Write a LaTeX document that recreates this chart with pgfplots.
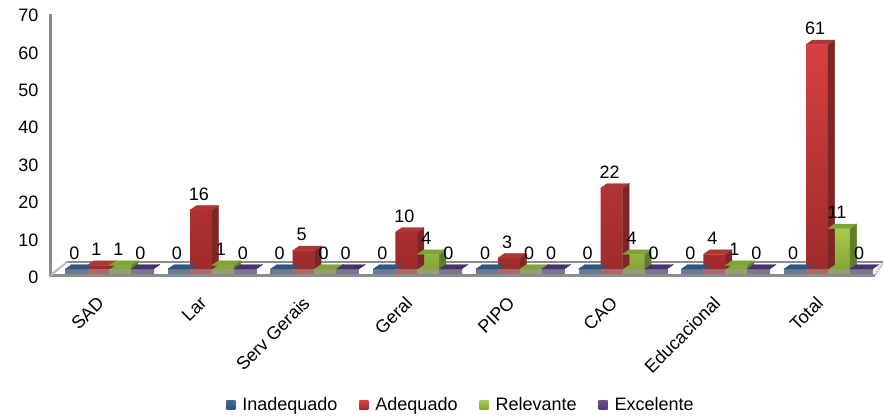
\documentclass[border=0pt]{standalone}
\usepackage{pgfplots}
\usepackage{pgfplotstable}
\usepackage{fontspec}
\setmainfont{Liberation Sans}
\pgfplotsset{compat=1.18}
\definecolor{floorg}{HTML}{8C8C8C}
\definecolor{atop}{HTML}{3F6A9C}\definecolor{abot}{HTML}{2F5580}\definecolor{aplate}{HTML}{2F5680}\definecolor{aside}{HTML}{24446A}\definecolor{astrip}{HTML}{6A7C94}
\definecolor{btop}{HTML}{D54040}\definecolor{bbot}{HTML}{A02B2B}\definecolor{bplate}{HTML}{B03636}\definecolor{bside}{HTML}{7E2525}\definecolor{bstrip}{HTML}{A66A6E}
\definecolor{ctop}{HTML}{A6CC4A}\definecolor{cbot}{HTML}{86A43A}\definecolor{cplate}{HTML}{7FA336}\definecolor{cside}{HTML}{5F7D2A}\definecolor{cstrip}{HTML}{929F70}
\definecolor{dtop}{HTML}{6A4F92}\definecolor{dbot}{HTML}{523D75}\definecolor{dplate}{HTML}{47336C}\definecolor{dside}{HTML}{382858}\definecolor{dstrip}{HTML}{7F7590}
\pgfplotstableread{
x a b c d
0 0 1 1 0
1 0 16 1 0
2 0 5 0 0
3 0 10 4 0
4 0 3 0 0
5 0 22 4 0
6 0 4 1 0
7 0 61 11 0
}\chartdata
\newcommand{\mkmark}[5]{%
\pgfdeclareplotmark{m#1}{%
\pgfmathsetmacro\hh{\rawy*3.68}%
\pgfmathsetmacro\xl{#2-11}\pgfmathsetmacro\xr{#2+11}%
\pgfmathsetmacro\xlb{\xl+6.5}\pgfmathsetmacro\xrb{\xr+6.5}%
\fill[#5] (\xl pt,-\hh pt) rectangle (\xr pt,{-\hh-4.5 pt});
\fill[#4] (\xr pt,0pt) -- (\xrb pt,4.5pt) -- (\xrb pt,{-\hh+4.5 pt}) -- (\xr pt,-\hh pt) -- cycle;
\fill[#3] (\xl pt,0pt) -- (\xlb pt,4.5pt) -- (\xrb pt,4.5pt) -- (\xr pt,0pt) -- cycle;
}}
\mkmark{a}{-33}{aplate}{aside}{astrip}
\mkmark{b}{-11}{bplate}{bside}{bstrip}
\mkmark{c}{11}{cplate}{cside}{cstrip}
\mkmark{d}{33}{dplate}{dside}{dstrip}
\pgfplotsset{
 bar3d/.style 2 args={ybar,bar width=22pt,bar shift=#1pt,draw=none,
   shade,shading=axis,top color=#2top,bottom color=#2bot,
   nodes near coords,
   every node near coord/.append style={font=\fontsize{18}{20}\selectfont,black,anchor=center,yshift=16pt,xshift={(#1-2)*1pt}},
   /pgf/number format/assume math mode=true},
 side3d/.style={only marks,mark=m#1,forget plot,visualization depends on={y \as \rawy}},
 legsq/.style={legend image code/.code={\shade[top color=#1top,bottom color=#1bot,draw=none] (0pt,-4.5pt) rectangle (9pt,4.5pt);\path[draw=none,fill=none] (0pt,0pt) -- (14pt,0pt);}}
}
\begin{document}
\begin{tikzpicture}[x=1pt,y=1pt]
\path[use as bounding box] (0,0) rectangle (883,418);
\begin{axis}[
  at={(51pt,142pt)},anchor=south west,scale only axis,width=832pt,height=262pt,
  xmin=-0.568,xmax=7.535,ymin=0,ymax=70,
  axis x line=none,axis y line=left,axis line style={floorg,line width=3pt,-},
  ytick={0,10,...,70},major tick length=0pt,
  /pgf/number format/assume math mode=true,
  yticklabel style={font=\fontsize{18}{20}\selectfont,xshift=-9pt,yshift=-1.5pt},
  clip=false
]
\end{axis}
\draw[floorg,line width=2pt] (66,156) -- (883,156);
\draw[floorg,line width=3pt] (50,142.5) -- (875,142.5);
\draw[floorg!60,line width=2pt] (51,143) -- (67,156);
\draw[floorg!60,line width=2pt,dashed,dash pattern=on 2pt off 1pt] (875,143) -- (883,155);
\begin{axis}[
  at={(51pt,149pt)},anchor=south west,scale only axis,width=832pt,height=257.6pt,
  xmin=-0.568,xmax=7.535,ymin=0,ymax=70,
  axis x line=bottom,axis y line=none,axis line style={draw=none},
  xtick={0,...,7},
  xticklabels={SAD,Lar,Serv Gerais,Geral,PIPO,CAO,Educacional,Total},
  xticklabel style={font=\fontsize{18}{20}\selectfont,rotate=45,anchor=north east,inner sep=0pt,xshift=-27.8pt,yshift=-9.2pt},
  major tick length=0pt,
  clip=false,
  legend style={at={(0.4928,-0.528)},anchor=center,draw=none,fill=none,legend columns=4,
    font=\fontsize{18}{20}\selectfont,
    /tikz/every even column/.style={column sep=20pt},
    legend cell align=left},
]
\addlegendimage{legsq=a}\addlegendentry{Inadequado}
\addlegendimage{legsq=b}\addlegendentry{Adequado}
\addlegendimage{legsq=c}\addlegendentry{Relevante}
\addlegendimage{legsq=d}\addlegendentry{Excelente}
\addplot[side3d=a] table[x=x,y=a]{\chartdata};
\addplot[bar3d={-33}{a},forget plot] table[x=x,y=a]{\chartdata};
\addplot[side3d=b] table[x=x,y=b]{\chartdata};
\addplot[bar3d={-11}{b},forget plot] table[x=x,y=b]{\chartdata};
\addplot[side3d=c] table[x=x,y=c]{\chartdata};
\addplot[bar3d={11}{c},forget plot] table[x=x,y=c]{\chartdata};
\addplot[side3d=d] table[x=x,y=d]{\chartdata};
\addplot[bar3d={33}{d},forget plot] table[x=x,y=d]{\chartdata};
\end{axis}
\end{tikzpicture}
\end{document}
